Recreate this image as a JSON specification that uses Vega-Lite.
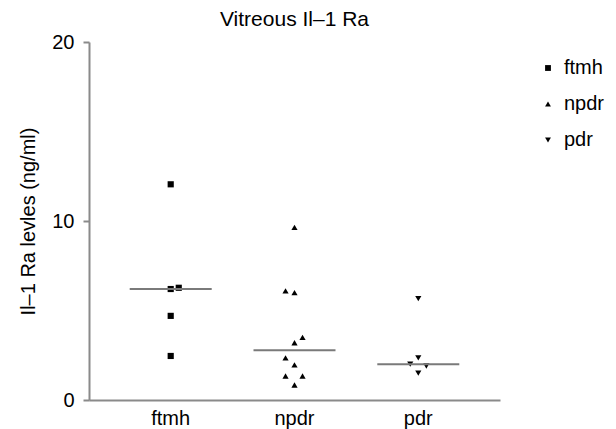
{
  "$schema": "https://vega.github.io/schema/vega-lite/v6.json",
  "autosize": {"type": "none"},
  "padding": {"left": 89, "top": 42, "right": 116, "bottom": 29},
  "width": 411,
  "height": 358,
  "background": "white",
  "config": {
    "view": {"stroke": null},
    "font": "Liberation Sans"
  },
  "title": {
    "text": "Vitreous Il–1 Ra",
    "fontSize": 21,
    "fontWeight": "normal",
    "font": "Liberation Sans",
    "color": "black",
    "anchor": "middle",
    "offset": 2
  },
  "data": {
    "values": [
      {"group": "ftmh", "value": 12.05, "jitter": 0},
      {"group": "ftmh", "value": 6.2, "jitter": 0},
      {"group": "ftmh", "value": 6.27, "jitter": 0.13},
      {"group": "ftmh", "value": 4.7, "jitter": 0},
      {"group": "ftmh", "value": 2.46, "jitter": 0},
      {"group": "npdr", "value": 9.64, "jitter": 0},
      {"group": "npdr", "value": 6.1, "jitter": -0.145},
      {"group": "npdr", "value": 6.0, "jitter": 0},
      {"group": "npdr", "value": 3.2, "jitter": 0},
      {"group": "npdr", "value": 3.5, "jitter": 0.13},
      {"group": "npdr", "value": 2.35, "jitter": -0.145},
      {"group": "npdr", "value": 1.96, "jitter": 0},
      {"group": "npdr", "value": 1.34, "jitter": -0.145},
      {"group": "npdr", "value": 1.34, "jitter": 0.13},
      {"group": "npdr", "value": 0.84, "jitter": 0},
      {"group": "pdr", "value": 5.66, "jitter": 0},
      {"group": "pdr", "value": 2.35, "jitter": 0},
      {"group": "pdr", "value": 2.0, "jitter": -0.13},
      {"group": "pdr", "value": 1.9, "jitter": 0.13},
      {"group": "pdr", "value": 1.5, "jitter": 0}
    ]
  },
  "encoding": {
    "x": {
      "field": "group",
      "type": "nominal",
      "sort": ["ftmh", "npdr", "pdr"],
      "scale": {"type": "band", "paddingInner": 0, "paddingOuter": 0.16},
      "axis": {
        "title": null,
        "labelAngle": 0,
        "labelFontSize": 20,
        "labelColor": "black",
        "labelFont": "Liberation Sans",
        "ticks": false,
        "labelPadding": 8,
        "domainColor": "#8a8a8a",
        "domainWidth": 2,
        "grid": false
      }
    },
    "y": {
      "field": "value",
      "type": "quantitative",
      "scale": {"domain": [0, 20], "nice": false, "zero": true},
      "axis": {
        "title": "Il–1 Ra levles (ng/ml)",
        "titleFontSize": 20,
        "titleFontWeight": "normal",
        "titleFont": "Liberation Sans",
        "titleColor": "black",
        "titlePadding": 13,
        "values": [0, 10, 20],
        "labelFontSize": 20,
        "labelColor": "black",
        "labelFont": "Liberation Sans",
        "labelPadding": 9,
        "tickSize": 6,
        "tickWidth": 2,
        "tickColor": "#8a8a8a",
        "domainColor": "#8a8a8a",
        "domainWidth": 2,
        "grid": false
      }
    }
  },
  "layer": [
    {
      "mark": {"type": "point", "filled": true, "color": "black", "opacity": 1, "size": 38},
      "encoding": {
        "xOffset": {"field": "jitter", "type": "quantitative", "scale": {"domain": [-1, 1]}},
        "shape": {
          "field": "group",
          "type": "nominal",
          "sort": ["ftmh", "npdr", "pdr"],
          "scale": {"domain": ["ftmh", "npdr", "pdr"], "range": ["square", "triangle-up", "triangle-down"]},
          "legend": {
            "title": null,
            "orient": "none",
            "legendX": 449,
            "legendY": 16,
            "padding": 0,
            "labelFontSize": 20,
            "labelFont": "Liberation Sans",
            "labelColor": "black",
            "symbolSize": 34,
            "symbolFillColor": "black",
            "symbolStrokeColor": "black",
            "symbolStrokeWidth": 0,
            "rowPadding": 16,
            "labelOffset": 6
          }
        }
      }
    },
    {
      "mark": {"type": "tick", "color": "#7a7a7a", "thickness": 2, "size": 82, "opacity": 1},
      "encoding": {
        "y": {"aggregate": "median", "field": "value", "type": "quantitative"}
      }
    }
  ]
}
